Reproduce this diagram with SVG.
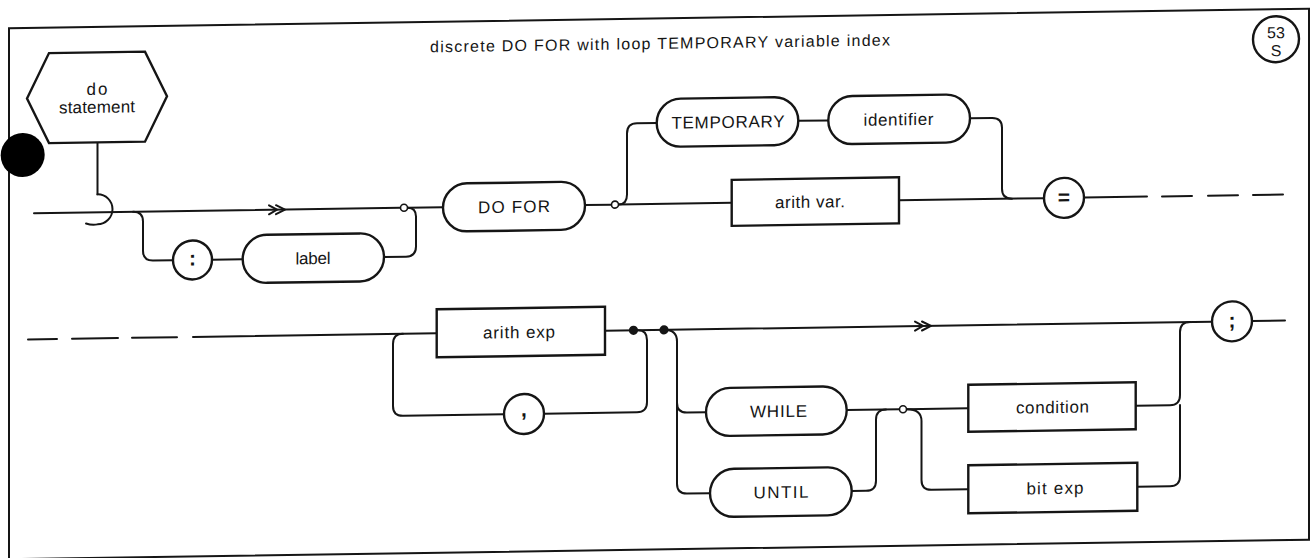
<svg xmlns="http://www.w3.org/2000/svg" width="1311" height="558" viewBox="0 0 1311 558">
<style>
.ln{fill:none;stroke:#151515;stroke-width:2;stroke-linecap:round;stroke-linejoin:round}
.sh{fill:#fff;stroke:#151515;stroke-width:2.4}
.t{font-family:"Liberation Sans",Arial,sans-serif;font-size:17px;fill:#151515;text-anchor:middle}
.sym{font-family:"Liberation Sans",Arial,sans-serif;font-size:21px;font-weight:bold;fill:#151515;text-anchor:middle}
.jn{fill:#fff;stroke:#151515;stroke-width:1.6}
.dot{fill:#151515}
</style>
<rect width="1311" height="558" fill="#fff"/>
<g transform="matrix(1 -0.015 0 1 0 9.825)">
  <rect id="frame" x="9" y="18.5" width="1300" height="531" fill="none" stroke="#151515" stroke-width="2"/>
  <text id="title" class="t" x="660" y="49" style="font-size:16px" textLength="460" lengthAdjust="spacing">discrete DO FOR with loop TEMPORARY variable index</text>
  <g id="page-mark">
    <circle class="sh" cx="1276" cy="48.5" r="23"/>
    <text class="t" x="1276" y="47.5" style="font-size:16px">53</text>
    <text class="t" x="1276" y="65.5" style="font-size:16px">S</text>
  </g>
  <circle id="punch-hole" cx="22.7" cy="145.5" r="22" fill="#000"/>

  <g id="connectors">
    <path class="ln" d="M97.5 134 V186"/>
    <path class="ln" d="M97.5 186 A15 15 0 0 1 97.5 216 Q92 217 86 215"/>
    <path class="ln" d="M34 204 H400.5"/>
    <path class="ln" d="M407.5 204 H443"/>
    <path class="ln" d="M133 204 Q143 204 143 214 V243 Q143 253 153 253 H173"/>
    <path class="ln" d="M212 253 H242.7"/>
    <path class="ln" d="M384 253 H406 Q416 253 416 243 V213 Q416 204 407.5 204"/>
    <path class="ln" d="M585 204 H611.5"/>
    <path class="ln" d="M618.5 204 H731.7"/>
    <path class="ln" d="M618.5 204 Q627 204 627 194 V133 Q627 123 637 123 H656.7"/>
    <path class="ln" d="M798.3 123 H828.3"/>
    <path class="ln" d="M970 123 H992 Q1002 123 1002 133 V194 Q1002 204 1012 204"/>
    <path class="ln" d="M899 204 H1044"/>
    <path class="ln" d="M1084 204 H1147 M1162 204 H1192 M1208 204 H1238 M1253 204 H1283"/>
    <path class="ln" d="M28 330 H57 M72 330 H118 M132 330 H177 M193 330 H436.7"/>
    <path class="ln" d="M403 330 Q393 330 393 340 V402 Q393 412 403 412 H504"/>
    <path class="ln" d="M544 412 H637 Q647 412 647 402 V340 Q647 330 638 330"/>
    <path class="ln" d="M605 330 H1212"/>
    <path class="ln" d="M664 330 Q677 330 677 342 V484 Q677 494 687 494 H710"/>
    <path class="ln" d="M677 403 Q677 413 687 413 H706"/>
    <path class="ln" d="M846.7 413 H899.5"/>
    <path class="ln" d="M851.7 494 H866 Q876 494 876 484 V423 Q876 413 886 413"/>
    <path class="ln" d="M906.5 413 H968.3"/>
    <path class="ln" d="M906.5 413 Q921.5 413 921.5 425 V484 Q921.5 494 931.5 494 H968.3"/>
    <path class="ln" d="M1135.7 413 H1170 Q1180 413 1180 403 V340 Q1180 330 1190 330"/>
    <path class="ln" d="M1137.3 494 H1170 Q1180 494 1180 484 V413"/>
    <path class="ln" d="M1252 330 H1285"/>
    <path class="ln" d="M269 199.5 L277 204 L269 208.5 M276 199.5 L285 204 L276 208.5"/>
    <path class="ln" d="M915 325.5 L923 330 L915 334.5 M922 325.5 L931 330 L922 334.5"/>
    <circle class="jn" cx="404" cy="204" r="3.5"/>
    <circle class="jn" cx="615" cy="204" r="3.5"/>
    <circle class="jn" cx="903" cy="413" r="3.5"/>
    <circle class="dot" cx="633.5" cy="330" r="4.6"/>
    <circle class="dot" cx="664" cy="330" r="4.6"/>
  </g>

  <g id="do-statement">
    <polygon class="sh" points="27,89 49,44 145,44 167,89 145,134 49,134"/>
    <text class="t" x="97" y="86.5" textLength="21" lengthAdjust="spacing">do</text>
    <text class="t" x="97" y="104.5" textLength="76" lengthAdjust="spacing">statement</text>
  </g>
  <g id="colon">
    <circle class="sh" cx="192.5" cy="253" r="19.5"/>
    <text class="sym" x="192.5" y="258.5">:</text>
  </g>
  <g id="label">
    <rect class="sh" x="242.7" y="229" width="141.3" height="48" rx="24"/>
    <text class="t" x="313" y="259" textLength="35" lengthAdjust="spacing">label</text>
  </g>
  <g id="do-for">
    <rect class="sh" x="443" y="180.5" width="142" height="48" rx="24"/>
    <text class="t" x="514" y="210.5" textLength="72" lengthAdjust="spacing">DO FOR</text>
  </g>
  <g id="temporary">
    <rect class="sh" x="656.7" y="99" width="141.6" height="48" rx="24"/>
    <text class="t" x="728" y="129" textLength="113" lengthAdjust="spacing">TEMPORARY</text>
  </g>
  <g id="identifier">
    <rect class="sh" x="828.3" y="99" width="141.7" height="48" rx="24"/>
    <text class="t" x="898.5" y="129" textLength="70" lengthAdjust="spacing">identifier</text>
  </g>
  <g id="arith-var">
    <rect class="sh" x="731.7" y="181" width="167.3" height="46"/>
    <text class="t" x="810" y="210" textLength="70" lengthAdjust="spacing">arith var.</text>
  </g>
  <g id="equals">
    <circle class="sh" cx="1064" cy="204" r="20"/>
    <text class="sym" x="1064" y="210.5">=</text>
  </g>
  <g id="arith-exp">
    <rect class="sh" x="436.7" y="306" width="168.3" height="48"/>
    <text class="t" x="519" y="336" textLength="72" lengthAdjust="spacing">arith exp</text>
  </g>
  <g id="comma">
    <circle class="sh" cx="524" cy="412" r="20"/>
    <text class="sym" x="524" y="414.5">,</text>
  </g>
  <g id="while">
    <rect class="sh" x="706" y="389" width="140.7" height="48" rx="24"/>
    <text class="t" x="778.5" y="419" textLength="57" lengthAdjust="spacing">WHILE</text>
  </g>
  <g id="until">
    <rect class="sh" x="710" y="470" width="141.7" height="48" rx="24"/>
    <text class="t" x="781" y="500" textLength="55" lengthAdjust="spacing">UNTIL</text>
  </g>
  <g id="condition">
    <rect class="sh" x="968.3" y="389.5" width="167.4" height="47"/>
    <text class="t" x="1052.5" y="419" textLength="73" lengthAdjust="spacing">condition</text>
  </g>
  <g id="bit-exp">
    <rect class="sh" x="968.3" y="470" width="169" height="48"/>
    <text class="t" x="1055" y="500" textLength="57" lengthAdjust="spacing">bit exp</text>
  </g>
  <g id="semicolon">
    <circle class="sh" cx="1232" cy="330" r="20"/>
    <text class="sym" x="1232" y="336">;</text>
  </g>
</g>
</svg>
